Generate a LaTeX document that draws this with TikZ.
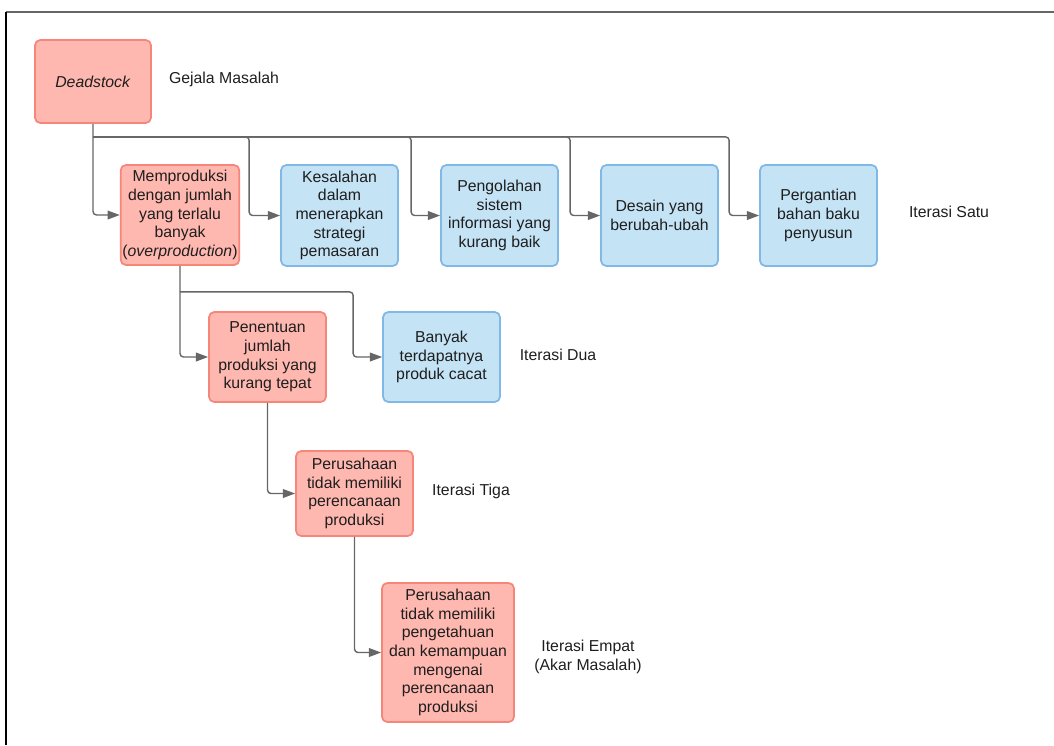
\documentclass[tikz,border=0pt]{standalone}
\usepackage{fontspec}
\setmainfont{Liberation Sans}
\usetikzlibrary{arrows.meta,calc}

\definecolor{redfill}{RGB}{255,184,176}
\definecolor{redline}{RGB}{246,134,122}
\definecolor{bluefill}{RGB}{196,227,245}
\definecolor{blueline}{RGB}{128,184,230}
\definecolor{connline}{RGB}{102,102,102}
\definecolor{textcol}{RGB}{30,30,30}

\tikzset{
    box/.style={rounded corners=3pt, line width=1pt, align=center, text=textcol,
        minimum width=2.34cm, inner sep=1pt, font=\fontsize{9}{10.6}\selectfont},
    redbox/.style={box, draw=redline, fill=redfill},
    bluebox/.style={box, draw=blueline, fill=bluefill},
    conn/.style={draw=connline, line width=0.8pt, rounded corners=2pt,
        -{Triangle[length=7pt,width=5pt]}},
    iterlabel/.style={align=center, text=textcol, font=\fontsize{9}{10.6}\selectfont}
}

\begin{document}
\begin{tikzpicture}[x=0.02cm, y=-0.02cm]
    \useasboundingbox (0,0) rectangle (1054,745);

    % Frame
    \draw[connline, line width=1pt] (6,12) -- (1054,12);
    \draw[black, line width=1.2pt] (6,12) -- (6,745);

    % Gejala masalah
    \node[redbox, minimum width=2.32cm, minimum height=1.66cm] (dead) at (93,81.5) {\textit{Deadstock}};
    \node[iterlabel] (lgejala) at (224,79) {Gejala Masalah};

    % Iterasi satu
    \node[redbox, minimum height=2cm] (over) at (180,215) {Memproduksi\\dengan jumlah\\yang terlalu\\banyak\\(\textit{overproduction})};
    \node[bluebox, minimum height=2.02cm] (kes) at (339.5,215.5) {Kesalahan\\dalam\\menerapkan\\strategi\\pemasaran};
    \node[bluebox, minimum height=2.02cm] (sis) at (499.5,215.5) {Pengolahan\\sistem\\informasi yang\\kurang baik};
    \node[bluebox, minimum height=2.02cm] (des) at (659.5,215.5) {Desain yang\\berubah-ubah};
    \node[bluebox, minimum height=2.02cm] (bahan) at (818.5,215.5) {Pergantian\\bahan baku\\penyusun};
    \node[iterlabel] (lsatu) at (949,212) {Iterasi Satu};

    % Iterasi dua
    \node[redbox, minimum height=1.8cm] (tentu) at (267.5,357) {Penentuan\\jumlah\\produksi yang\\kurang tepat};
    \node[bluebox, minimum height=1.8cm] (cacat) at (441.5,357) {Banyak\\terdapatnya\\produk cacat};
    \node[iterlabel] (ldua) at (558,355) {Iterasi Dua};

    % Iterasi tiga
    \node[redbox, minimum height=1.7cm] (rencana) at (354.5,493.5) {Perusahaan\\tidak memiliki\\perencanaan\\produksi};
    \node[iterlabel] (ltiga) at (471,491) {Iterasi Tiga};

    % Iterasi empat
    \node[redbox, minimum width=2.64cm, minimum height=2.78cm] (akar) at (448,652.5) {Perusahaan\\tidak memiliki\\pengetahuan\\dan kemampuan\\mengenai\\perencanaan\\produksi};
    \node[iterlabel] (lempat) at (588,657) {Iterasi Empat\\(Akar Masalah)};

    % Connectors
    \coordinate (bus) at ($(dead.south)+(0,13)$);
    \draw[conn] (dead.south) |- (over.west);
    \draw[conn] (bus) -| ($(kes.west)+(-31,0)$) -- (kes.west);
    \draw[conn] (bus) -| ($(sis.west)+(-29,0)$) -- (sis.west);
    \draw[conn] (bus) -| ($(des.west)+(-30,0)$) -- (des.west);
    \draw[conn] (bus) -| ($(bahan.west)+(-30,0)$) -- (bahan.west);

    \coordinate (bus2) at ($(over.south)+(0,26)$);
    \draw[conn] (over.south) |- (tentu.west);
    \draw[conn] (bus2) -| ($(cacat.west)+(-29,0)$) -- (cacat.west);

    \draw[conn] (tentu.south) |- (rencana.west);
    \draw[conn] (rencana.south) |- (akar.west);
\end{tikzpicture}
\end{document}
